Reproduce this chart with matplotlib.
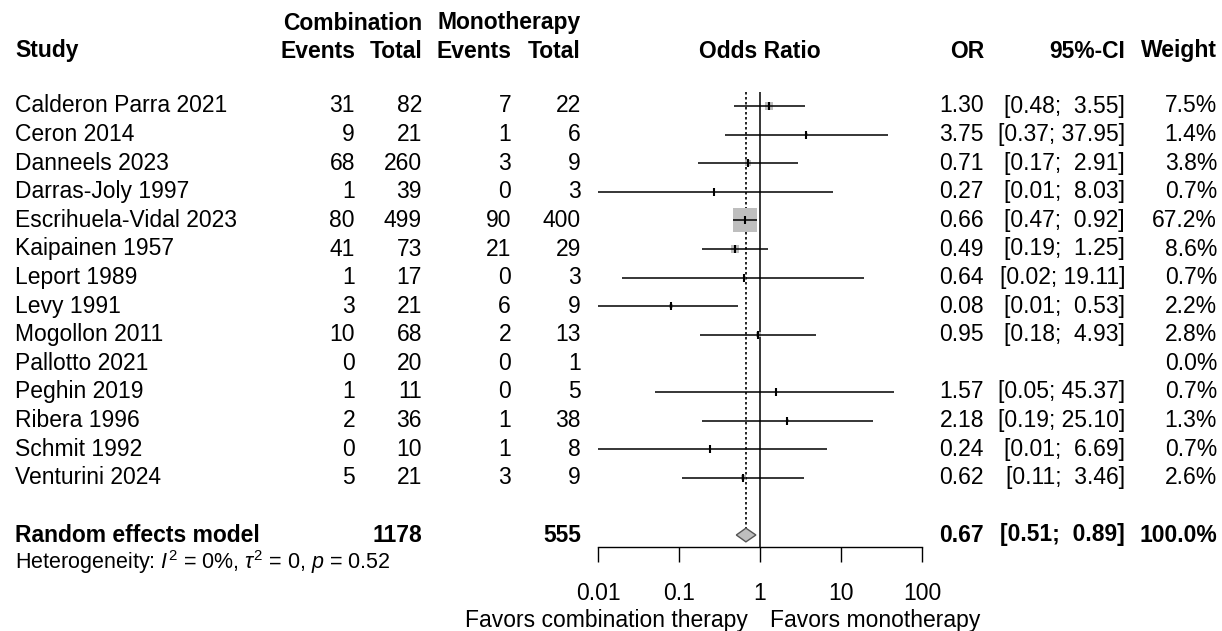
import numpy as np
import matplotlib
matplotlib.use("Agg")
import matplotlib.pyplot as plt
from matplotlib.transforms import blended_transform_factory

# ── Дані ──────────────────────────────────────────────────────────────────────
studies = ["Calderon Parra 2021", "Ceron 2014", "Danneels 2023", "Darras-Joly 1997",
           "Escrihuela-Vidal 2023", "Kaipainen 1957", "Leport 1989", "Levy 1991",
           "Mogollon 2011", "Pallotto 2021", "Peghin 2019", "Ribera 1996",
           "Schmit 1992", "Venturini 2024"]
events_comb = [31, 9, 68, 1, 80, 41, 1, 3, 10, 0, 1, 2, 0, 5]
total_comb = [82, 21, 260, 39, 499, 73, 17, 21, 68, 20, 11, 36, 10, 21]
events_mono = [7, 1, 3, 0, 90, 21, 0, 6, 2, 0, 0, 1, 1, 3]
total_mono = [22, 6, 9, 3, 400, 29, 3, 9, 13, 1, 5, 38, 8, 9]
odds_ratio = [1.30, 3.75, 0.71, 0.27, 0.66, 0.49, 0.64, 0.08, 0.95, np.nan, 1.57, 2.18, 0.24, 0.62]
ci_low = [0.48, 0.37, 0.17, 0.01, 0.47, 0.19, 0.02, 0.01, 0.18, np.nan, 0.05, 0.19, 0.01, 0.11]
ci_high = [3.55, 37.95, 2.91, 8.03, 0.92, 1.25, 19.11, 0.53, 4.93, np.nan, 45.37, 25.10, 6.69, 3.46]
weights = [7.5, 1.4, 3.8, 0.7, 67.2, 8.6, 0.7, 2.2, 2.8, 0.0, 0.7, 1.3, 0.7, 2.6]

pooled_or, pooled_low, pooled_high = 0.67, 0.51, 0.89
pooled_weight = 100.0
pooled_total_comb, pooled_total_mono = 1178, 555
het_text = r"Heterogeneity: $I^2$ = 0%, $\tau^2$ = 0, $p$ = 0.52"
tick_values = [0.01, 0.1, 1, 10, 100]
tick_labels = ["0.01", "0.1", "1", "10", "100"]

# ── Макет (пікселі) ───────────────────────────────────────────────────────────
W, H = 1222, 631
ROW0_PX, ROW_STEP = 106, 28.6
FS = 16.5
GRAY = "#BEBEBE"

plt.rcParams["font.family"] = ["Liberation Sans", "DejaVu Sans"]
plt.rcParams["mathtext.fontset"] = "custom"
plt.rcParams["mathtext.rm"] = "Liberation Sans"
plt.rcParams["mathtext.it"] = "Liberation Sans:italic"


def px_to_row(y):
    return 1 + (y - ROW0_PX) / ROW_STEP


fig = plt.figure(figsize=(W / 100, H / 100), dpi=100)
fig.patch.set_facecolor("white")
ax = fig.add_axes([598 / W, 0, (922 - 598) / W, 1])
ax.set_xscale("log")
ax.set_xlim(0.01, 100)
ax.set_ylim(px_to_row(H), px_to_row(0))
ax.patch.set_alpha(0)

for s in ["top", "left", "right"]:
    ax.spines[s].set_visible(False)
axis_row = px_to_row(547)
ax.spines["bottom"].set_position(("data", axis_row))
ax.spines["bottom"].set_bounds(0.01, 100)
ax.spines["bottom"].set_linewidth(1.0)
ax.set_yticks([])
ax.set_xticks(tick_values)
ax.set_xticklabels(tick_labels, fontsize=FS)
ax.xaxis.set_minor_locator(matplotlib.ticker.NullLocator())
ax.tick_params(axis="x", direction="out", length=11, width=1.0, pad=14)

rows = np.arange(1, len(studies) + 1)
pooled_row = len(studies) + 2

# квадрати ваг
ors = np.array(odds_ratio)
w = np.array(weights)
ok = ~np.isnan(ors) & (w > 0)
sizes = (17.3 * np.sqrt(w[ok] / 67.2)) ** 2
ax.scatter(ors[ok], rows[ok], s=sizes, marker="s", color=GRAY, linewidths=0, zorder=2, clip_on=False)
# довірчі інтервали
lo = np.array(ci_low)
hi = np.array(ci_high)
ax.hlines(rows[ok], lo[ok], hi[ok], color="black", lw=1.1, zorder=3, clip_on=False)
ax.scatter(ors[ok], rows[ok], marker="|", s=40, color="black", linewidths=1.5, zorder=4, clip_on=False)

# референсні лінії
ax.vlines(1, px_to_row(92), axis_row, color="black", lw=1.1, zorder=1)
dh = 0.24
ax.vlines(pooled_or, px_to_row(92), pooled_row - dh, color="black", lw=1.2,
          linestyles=(0, (1.5, 1.5)), zorder=1)

# ромб
ax.fill([pooled_low, pooled_or, pooled_high, pooled_or],
        [pooled_row, pooled_row - dh, pooled_row, pooled_row + dh],
        facecolor=GRAY, edgecolor="#555555", lw=1.0, zorder=3, clip_on=False)

# ── Текстові колонки ──────────────────────────────────────────────────────────
tr = blended_transform_factory(fig.transFigure, ax.transData)


def put(xpx, row, s, ha="left", bold=False, size=FS):
    fig.text(xpx / W, row, s, transform=tr, ha=ha, va="center", fontsize=size,
             fontweight="bold" if bold else "normal")


X_STUDY, X_EC, X_TC, X_EM, X_TM = 15, 355, 422, 511, 581
X_OR, X_CI, X_W = 984, 1125, 1217

hdr1 = px_to_row(23)
hdr2 = px_to_row(51)
put(X_TC, hdr1, "Combination", ha="right", bold=True)
put(X_TM, hdr1, "Monotherapy", ha="right", bold=True)
put(X_STUDY, hdr2, "Study", bold=True)
put(X_EC, hdr2, "Events", ha="right", bold=True)
put(X_TC, hdr2, "Total", ha="right", bold=True)
put(X_EM, hdr2, "Events", ha="right", bold=True)
put(X_TM, hdr2, "Total", ha="right", bold=True)
put(760, hdr2, "Odds Ratio", ha="center", bold=True)
put(X_OR, hdr2, "OR", ha="right", bold=True)
put(X_CI, hdr2, "95%-CI", ha="right", bold=True)
put(X_W, hdr2, "Weight", ha="right", bold=True)

for i, r in enumerate(rows):
    put(X_STUDY, r, studies[i])
    put(X_EC, r, str(events_comb[i]), ha="right")
    put(X_TC, r, str(total_comb[i]), ha="right")
    put(X_EM, r, str(events_mono[i]), ha="right")
    put(X_TM, r, str(total_mono[i]), ha="right")
    if not np.isnan(odds_ratio[i]):
        put(X_OR, r, f"{odds_ratio[i]:.2f}", ha="right")
        put(X_CI, r, f"[{ci_low[i]:.2f}; {ci_high[i]:5.2f}]", ha="right")
    put(X_W, r, f"{weights[i]:.1f}%", ha="right")

put(X_STUDY, pooled_row, "Random effects model", bold=True)
put(X_TC, pooled_row, str(pooled_total_comb), ha="right", bold=True)
put(X_TM, pooled_row, str(pooled_total_mono), ha="right", bold=True)
put(X_OR, pooled_row, f"{pooled_or:.2f}", ha="right", bold=True)
put(X_CI, pooled_row, f"[{pooled_low:.2f}; {pooled_high:5.2f}]", ha="right", bold=True)
put(X_W, pooled_row, f"{pooled_weight:.1f}%", ha="right", bold=True)

put(X_STUDY, px_to_row(562), het_text, size=15.5)

put(748, px_to_row(621), "Favors combination therapy", ha="right")
put(770, px_to_row(621), "Favors monotherapy", ha="left")

fig.savefig("out.png", dpi=100)
